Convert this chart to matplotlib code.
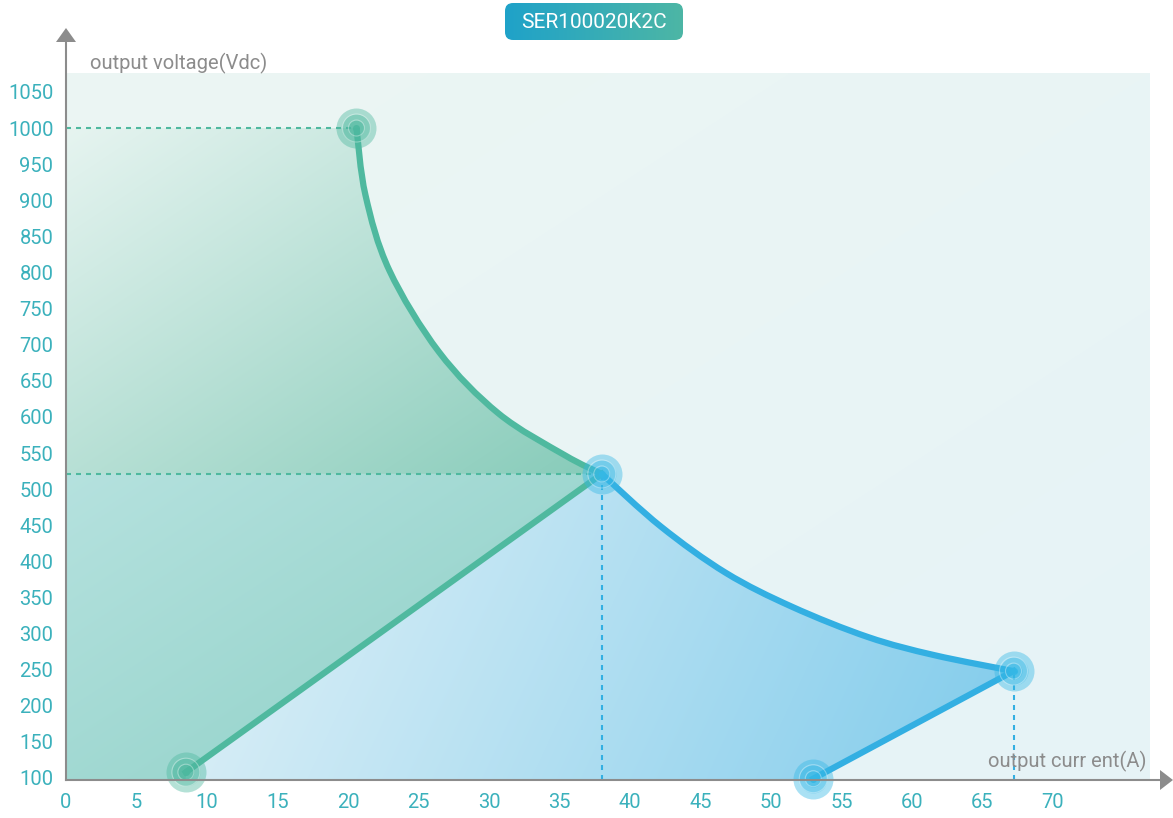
import numpy as np
import matplotlib
matplotlib.use('Agg')
import matplotlib.pyplot as plt
from matplotlib.patches import Polygon, FancyBboxPatch, PathPatch
from matplotlib.path import Path
from matplotlib.lines import Line2D
from matplotlib.colors import to_rgb

# values (A, Vdc)
green_curve_a = [20.6, 21.24, 22.93, 26.45, 30.66, 35.37, 38.0]
green_curve_v = [1000, 907, 803, 690, 605, 547, 521]
green_line_a = [38.0, 8.5]
green_line_v = [521, 108]
blue_curve_a = [38.0, 42.2, 46.8, 51.5, 56.9, 61.6, 67.2]
blue_curve_v = [521, 448, 384, 337, 295, 270, 248]
blue_line_a = [67.2, 53.0]
blue_line_v = [248, 99]

green_points = [(20.6, 1000), (8.5, 108)]
blue_points = [(38.0, 521), (67.2, 248), (53.0, 99)]

x_ticks = list(range(0, 75, 5))
y_ticks = list(range(100, 1100, 50))
title = 'SER100020K2C'

plt.rcParams['font.family'] = ['Roboto', 'DejaVu Sans']

W, H = 1173, 818
fig = plt.figure(figsize=(W / 100, H / 100), dpi=100)
# axes box in pixels: left 66, right 1150, top 73, bottom 780
ax = fig.add_axes([66 / W, 38 / H, 1084 / W, 707 / H])
xlim = (0, 76.88)
ylim = (97.2, 1076.2)
ax.set_xlim(*xlim)
ax.set_ylim(*ylim)
for s in ax.spines.values():
    s.set_visible(False)

GREEN = '#4fb99f'
BLUE = '#33afe2'
TICK = '#3bb1bc'
GRAY = '#8c8c8c'


def smooth(xs, ys):
    # bezier segments (catmull-rom) passing through the read points
    p = np.column_stack([xs, ys]).astype(float)
    n = len(p)
    verts, codes = [], []
    for i in range(n - 1):
        p0 = p[i - 1] if i > 0 else p[i]
        p1, p2 = p[i], p[i + 1]
        p3 = p[i + 2] if i + 2 < n else p[i + 1]
        verts += [p1 + (p2 - p0) / 6, p2 - (p3 - p1) / 6, p2]
        codes += [Path.CURVE4] * 3
    return verts, codes


def region(parts):
    # parts: list of ('line', pts) or ('curve', xs, ys)
    verts, codes = [], []
    for part in parts:
        if part[0] == 'line':
            for pt in part[1]:
                verts.append(pt)
                codes.append(Path.LINETO if codes else Path.MOVETO)
        else:
            xs, ys = part[1], part[2]
            verts.append((xs[0], ys[0]))
            codes.append(Path.LINETO if codes else Path.MOVETO)
            v, c = smooth(xs, ys)
            verts += v
            codes += c
    verts.append(verts[0])
    codes.append(Path.CLOSEPOLY)
    return Path(verts, codes)


def gradient(c0, c1, p0, p1, clip=None, z=0):
    # linear colour ramp in axes-fraction space from p0 to p1
    n = 300
    xx, yy = np.meshgrid(np.linspace(0, 1, n), np.linspace(0, 1, n))
    d = np.array(p1, float) - np.array(p0, float)
    t = ((xx - p0[0]) * d[0] + (yy - p0[1]) * d[1]) / (d @ d)
    t = np.clip(t, 0, 1)[..., None]
    img = np.array(to_rgb(c0)) * (1 - t) + np.array(to_rgb(c1)) * t
    im = ax.imshow(img, extent=(*xlim, *ylim), origin='lower', aspect='auto',
                   zorder=z, interpolation='bilinear')
    if clip is not None:
        patch = PathPatch(clip, fc='none', ec='none')
        ax.add_patch(patch)
        im.set_clip_path(patch)
    return im


# panel background
gradient('#ecf6f3', '#e6f3f7', (0, 1), (1, 0), z=0)

knee = (green_curve_a[-1], green_curve_v[-1])
y0 = ylim[0]

upper = region([('line', [(0, green_curve_v[0])]),
                ('curve', green_curve_a, green_curve_v),
                ('line', [(0, knee[1])])])
gradient('#e6f4f0', '#86cbb9', (0.0, 0.92), (0.5, 0.43), clip=upper, z=1)

lower = region([('line', [(0, knee[1]), knee, (green_line_a[1], green_line_v[1]),
                          (green_line_a[1], y0), (0, y0)])])
gradient('#b6e2df', '#8dd0c6', (0.0, 0.45), (0.45, 0.0), clip=lower, z=1)

blue = region([('curve', blue_curve_a, blue_curve_v),
               ('line', [(blue_line_a[1], blue_line_v[1]), (blue_line_a[1], y0),
                         (green_line_a[1], y0), (green_line_a[1], green_line_v[1])])])
gradient('#e0f1f7', '#84cdec', (0.12, 0.35), (0.88, 0.12), clip=blue, z=1)

# dashed guide lines
dash = dict(lw=1.5, dashes=(2.4, 2.4), zorder=3)
ax.plot([0, green_points[0][0]], [1000, 1000], color=GREEN, **dash)
ax.plot([0, knee[0]], [knee[1], knee[1]], color=GREEN, **dash)
ax.plot([knee[0], knee[0]], [y0, knee[1]], color=BLUE, **dash)
ax.plot([blue_line_a[0]] * 2, [y0, blue_line_v[0]], color=BLUE, **dash)

# curves
for xs, ys, col in [(green_curve_a, green_curve_v, GREEN),
                    (blue_curve_a, blue_curve_v, BLUE)]:
    v, c = smooth(xs, ys)
    path = Path([(xs[0], ys[0])] + v, [Path.MOVETO] + c)
    ax.add_patch(PathPatch(path, fc='none', ec=col, lw=4.5, zorder=4,
                           joinstyle='round', capstyle='butt'))
ax.plot(green_line_a, green_line_v, color=GREEN, lw=4.5, zorder=4)
ax.plot(blue_line_a, blue_line_v, color=BLUE, lw=4.5, zorder=4)


def target(x, y, color):
    for r, a in [(20, 0.42), (14, 0.4), (8, 0.5), (3.5, 0.9)]:
        ax.scatter([x], [y], s=(2 * r * 0.72) ** 2, color=color, alpha=a,
                   lw=0, zorder=6, clip_on=False)
    for r in (14, 8):
        ax.scatter([x], [y], s=(2 * r * 0.72) ** 2, facecolor='none',
                   edgecolor='white', alpha=0.35, lw=0.8, zorder=6, clip_on=False)


for p in green_points:
    target(*p, '#4db89f')
for p in blue_points:
    target(*p, '#35b8e6')

# ticks
ax.set_xticks(x_ticks)
ax.set_xticklabels([str(t) for t in x_ticks])
ax.set_yticks(y_ticks)
ax.set_yticklabels([str(t) for t in y_ticks])
ax.tick_params(length=0, labelsize=14.5, colors=TICK)
ax.tick_params(axis='y', pad=9)
ax.tick_params(axis='x', pad=9)


# axis arrows (figure pixels)
def fx(px):
    return px / W


def fy(py):
    return 1 - py / H


fig.add_artist(Line2D([fx(66), fx(66)], [fy(780), fy(40)], color=GRAY, lw=1.5))
fig.add_artist(Line2D([fx(66), fx(1162)], [fy(780), fy(780)], color=GRAY, lw=1.5))
fig.add_artist(Polygon([(fx(66), fy(28)), (fx(56), fy(42)), (fx(76), fy(42))],
                       closed=True, fc=GRAY, ec='none', transform=fig.transFigure))
fig.add_artist(Polygon([(fx(1173), fy(780)), (fx(1160), fy(770)), (fx(1160), fy(790))],
                       closed=True, fc=GRAY, ec='none', transform=fig.transFigure))

fig.text(fx(90), fy(63), 'output voltage(Vdc)', color=GRAY, fontsize=14.5,
         ha='left', va='center')
fig.text(fx(1146), fy(761), 'output curr ent(A)', color=GRAY, fontsize=14.5,
         ha='right', va='center')

# title badge
bx = fig.add_axes([505 / W, fy(40), 178 / W, 37 / H])
bx.set_xlim(0, 1)
bx.set_ylim(0, 1)
bx.axis('off')
grad = np.linspace(0, 1, 200)[None, :, None]
badge_img = np.array(to_rgb('#1fa2c9')) * (1 - grad) + np.array(to_rgb('#4db6a5')) * grad
im = bx.imshow(badge_img, extent=(0, 1, 0, 1), aspect='auto', origin='lower')
box = FancyBboxPatch((0, 0), 1, 1, boxstyle='round,pad=0,rounding_size=0.045',
                     mutation_aspect=178 / 37, fc='none', ec='none',
                     transform=bx.transData)
bx.add_patch(box)
im.set_clip_path(box)
bx.text(0.5, 0.48, title, color='white', fontsize=15, ha='center', va='center')

fig.savefig('out.png', dpi=100)
